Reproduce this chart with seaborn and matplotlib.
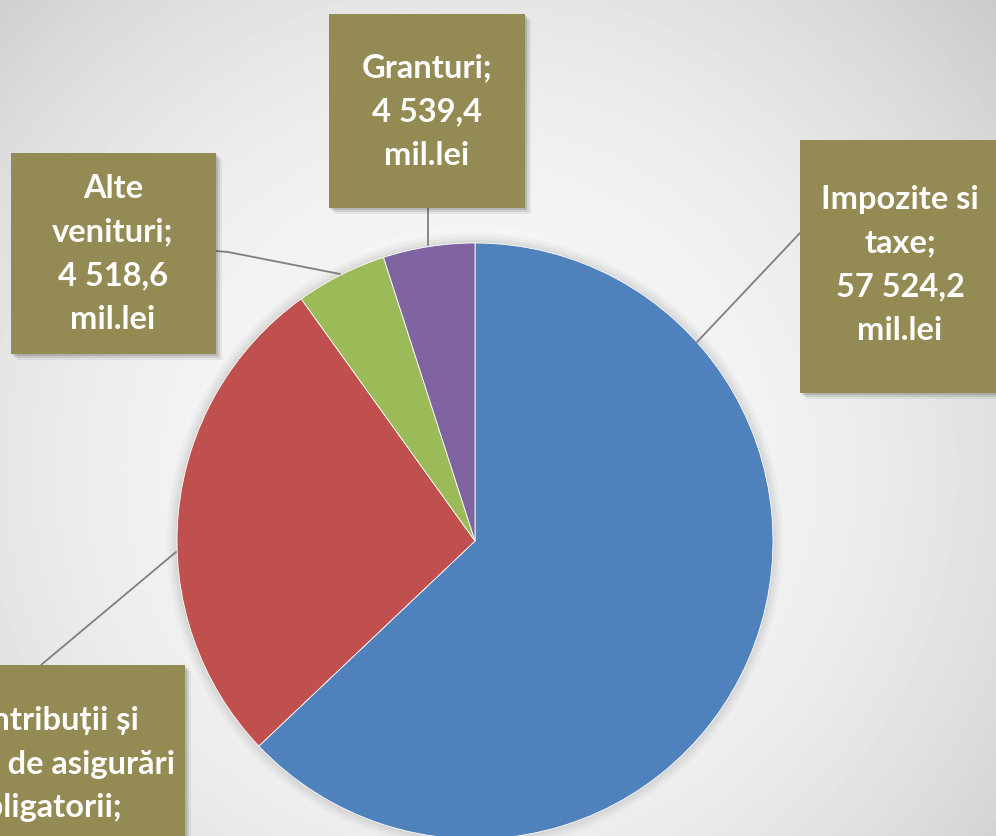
# Importing libraries
import numpy as np
import matplotlib.pyplot as plt
import seaborn as sns
from matplotlib.patches import Rectangle, Circle

# Data (mil.lei), in pie order starting at 12 o'clock, clockwise
categories = ['Impozite si taxe', 'Contribuții și prime de asigurări obligatorii',
              'Alte venituri', 'Granturi']
values = [57524.2, 24841.8, 4518.6, 4539.4]
name_lines = [['Impozite si', 'taxe;'],
              ['Contribuții și', 'prime de asigurări', 'obligatorii;'],
              ['Alte', 'venituri;'],
              ['Granturi;']]
unit = 'mil.lei'

colors = sns.color_palette(['#4F81BD', '#C0504D', '#9BBB59', '#8064A2'])
box_color = '#948A54'

sns.set_style('white')
plt.rcParams['font.family'] = ['Lato', 'DejaVu Sans']

W, H = 996, 836

# layout in pixels (left, top, right, bottom), y measured from top
boxes = [(800, 140, 1000, 393), (-80, 665, 185, 1000), (11, 153, 216, 354), (329, 14, 525, 208)]
text_pos = [(900, 265), (45, 808), (113, 254), (427, 112)]
leaders = [[(800, 233), (697, 342)],
           [(41, 665), (176, 552)],
           [(216, 251), (228, 252), (340, 274)],
           [(428, 208), (428, 245)]]


def fy(py):
    return H - py


def fmt(v):
    return f'{v:,.1f}'.replace(',', ' ').replace('.', ',')


fig = plt.figure(figsize=(9.96, 8.36), dpi=100)
ax = fig.add_axes([0, 0, 1, 1])

# Background radial gradient
yy, xx = np.mgrid[0:H, 0:W]
d = np.hypot(xx - 470, yy - 470) / 700
bg = 0.975 - 0.18 * np.clip(d, 0, 1.3) ** 2.2
ax.imshow(bg, cmap='gray', vmin=0, vmax=1, extent=(0, W, 0, H), origin='upper',
          zorder=0, interpolation='bilinear')

# soft shadow around the pie
cx, cy, r = 475, fy(541), 298
for dr in [10, 7, 5, 3, 1.5]:
    ax.add_patch(Circle((cx, cy), r + dr, color='#808080', alpha=0.05, lw=0, zorder=1))

# Pie
ax.pie(values, colors=colors, startangle=90, counterclock=False,
       center=(cx, cy), radius=r,
       wedgeprops=dict(edgecolor='white', linewidth=0.6, zorder=2))

# Leader lines
for pts in leaders:
    xs = [p[0] for p in pts]
    ys = [fy(p[1]) for p in pts]
    ax.plot(xs, ys, color='#7F7F7F', lw=1.3, zorder=3)

# Label boxes with shadow
for (l, t, rr, b), (tx, ty), lines, v in zip(boxes, text_pos, name_lines, values):
    for off, a in [(6, 0.08), (4, 0.12), (2, 0.18)]:
        ax.add_patch(Rectangle((l + off, fy(b) - off), rr - l, b - t,
                               color='#404040', alpha=a, lw=0, zorder=4))
    ax.add_patch(Rectangle((l, fy(b)), rr - l, b - t, color=box_color, lw=0, zorder=5))
    label = '\n'.join(lines + [fmt(v), unit])
    ax.text(tx, fy(ty), label, ha='center', va='center', color='white',
            fontsize=23.5, fontweight='bold', linespacing=1.62, zorder=6)

ax.set_xlim(0, W)
ax.set_ylim(0, H)
ax.axis('off')

# Save plot
fig.savefig('out.png', dpi=100)
